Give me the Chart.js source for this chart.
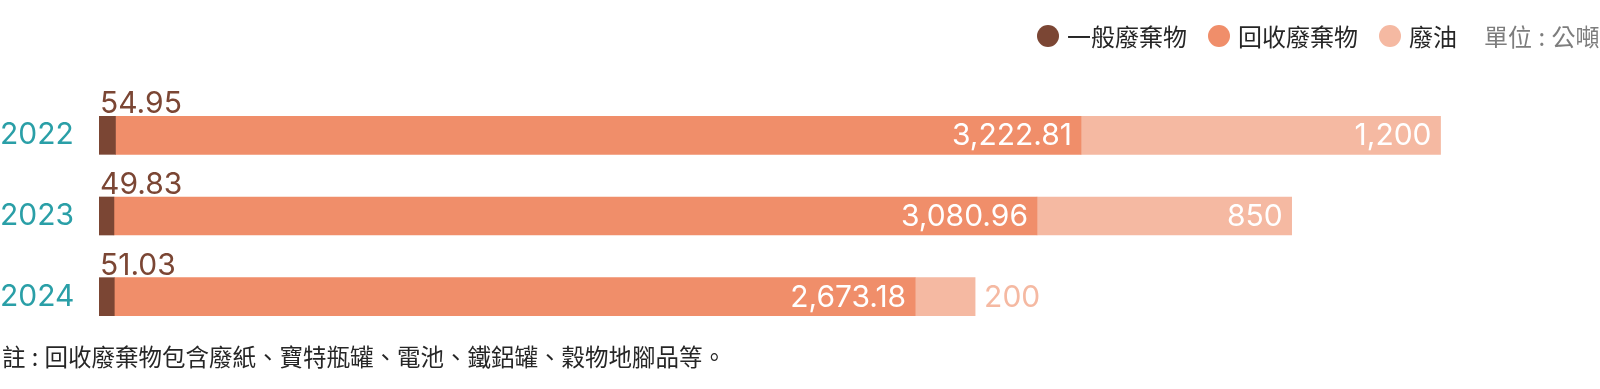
<!DOCTYPE html>
<html lang="zh-Hant">
<head>
<meta charset="utf-8">
<title>廢棄物統計</title>
<script src="https://cdn.jsdelivr.net/npm/chart.js@4.4.1/dist/chart.umd.min.js"></script>
<style>
    html, body { margin: 0; padding: 0; background: #fff; }
    #wrap { position: relative; width: 1600px; height: 389px; overflow: hidden; }
    #chart-box { position: absolute; left: 0; top: 0; width: 1600px; height: 389px; }
    .legend {
        position: absolute; left: 1037px; top: 24px; height: 24px;
        display: flex; align-items: center; white-space: nowrap;
        font-family: "Noto Sans CJK TC", "Noto Sans", sans-serif; font-size: 24px; line-height: 24px; color: #262626;
    }
    .legend .dot { width: 22px; height: 22px; border-radius: 50%; margin-right: 8px; flex: none; }
    .legend .item { display: flex; align-items: center; margin-right: 21px; }
    .legend .unit { color: #7d7d7d; margin-left: 6px; word-spacing: 1px; }
    .note {
        position: absolute; left: 2px; top: 344px; white-space: nowrap; word-spacing: 1px;
        font-family: "Noto Sans CJK TC", "Noto Sans", sans-serif; font-size: 23.5px; line-height: 24px; color: #262626;
    }
</style>
</head>
<body>
<div id="wrap">
    <div id="chart-box"><canvas id="wasteChart"></canvas></div>
    <div class="legend" id="legend"></div>
    <div class="note">註 : 回收廢棄物包含廢紙、寶特瓶罐、電池、鐵鋁罐、穀物地腳品等。</div>
</div>
<script>
// data (公噸)
const years = ['2022', '2023', '2024'];
const generalWaste = [54.95, 49.83, 51.03];
const recycledWaste = [3222.81, 3080.96, 2673.18];
const wasteOil = [1200, 850, 200];

const seriesNames = ['一般廢棄物', '回收廢棄物', '廢油'];
const colors = ['#7b4634', '#f08e6a', '#f5b9a2'];
const unitText = '單位 : 公噸';

const fmt = v => v.toLocaleString('en-US', { maximumFractionDigits: 2 });
const numFont = '30px Inter, "Noto Sans", sans-serif';

// html legend
const legend = document.getElementById('legend');
seriesNames.forEach((name, i) => {
    const item = document.createElement('span');
    item.className = 'item';
    item.innerHTML = '<span class="dot" style="background:' + colors[i] + '"></span><span>' + name + '</span>';
    legend.appendChild(item);
});
const unit = document.createElement('span');
unit.className = 'unit';
unit.textContent = unitText;
legend.appendChild(unit);

// value labels on the bars
const valueLabels = {
    id: 'valueLabels',
    afterDatasetsDraw(chart) {
        const ctx = chart.ctx;
        ctx.save();
        ctx.font = numFont;
        chart.data.datasets.forEach((ds, di) => {
            const meta = chart.getDatasetMeta(di);
            meta.data.forEach((bar, i) => {
                const text = fmt(ds.data[i]);
                const left = Math.min(bar.x, bar.base);
                const right = Math.max(bar.x, bar.base);
                if (di === 0) {
                    ctx.fillStyle = colors[0];
                    ctx.textAlign = 'left';
                    ctx.textBaseline = 'alphabetic';
                    ctx.fillText(text, left + 1, bar.y - bar.height / 2 - 3);
                    return;
                }
                const w = ctx.measureText(text).width;
                ctx.textBaseline = 'middle';
                if (w + 16 < right - left) {
                    ctx.fillStyle = '#fff';
                    ctx.textAlign = 'right';
                    ctx.fillText(text, right - 9, bar.y + 1);
                } else {
                    ctx.fillStyle = colors[di];
                    ctx.textAlign = 'left';
                    ctx.fillText(text, right + 9, bar.y + 1);
                }
            });
        });
        ctx.restore();
    }
};

const ctx = document.getElementById('wasteChart').getContext('2d');
new Chart(ctx, {
    type: 'bar',
    data: {
        labels: years,
        datasets: [generalWaste, recycledWaste, wasteOil].map((d, i) => ({
            label: seriesNames[i],
            data: d,
            backgroundColor: colors[i],
            borderWidth: 0,
            barThickness: 38
        }))
    },
    options: {
        indexAxis: 'y',
        responsive: true,
        maintainAspectRatio: false,
        animation: false,
        layout: { padding: { top: 95, bottom: 52, left: 0, right: 3 } },
        plugins: {
            legend: { display: false },
            tooltip: { enabled: false }
        },
        scales: {
            x: {
                stacked: true,
                display: false,
                min: 0,
                max: 5000
            },
            y: {
                stacked: true,
                grid: { display: false },
                border: { display: false },
                afterFit: (axis) => { axis.width = 99; },
                ticks: {
                    crossAlign: 'far',
                    padding: 0,
                    color: '#2a9fa7',
                    font: { family: 'Inter, "Noto Sans", sans-serif', size: 30 }
                }
            }
        }
    },
    plugins: [valueLabels]
});
</script>
</body>
</html>
